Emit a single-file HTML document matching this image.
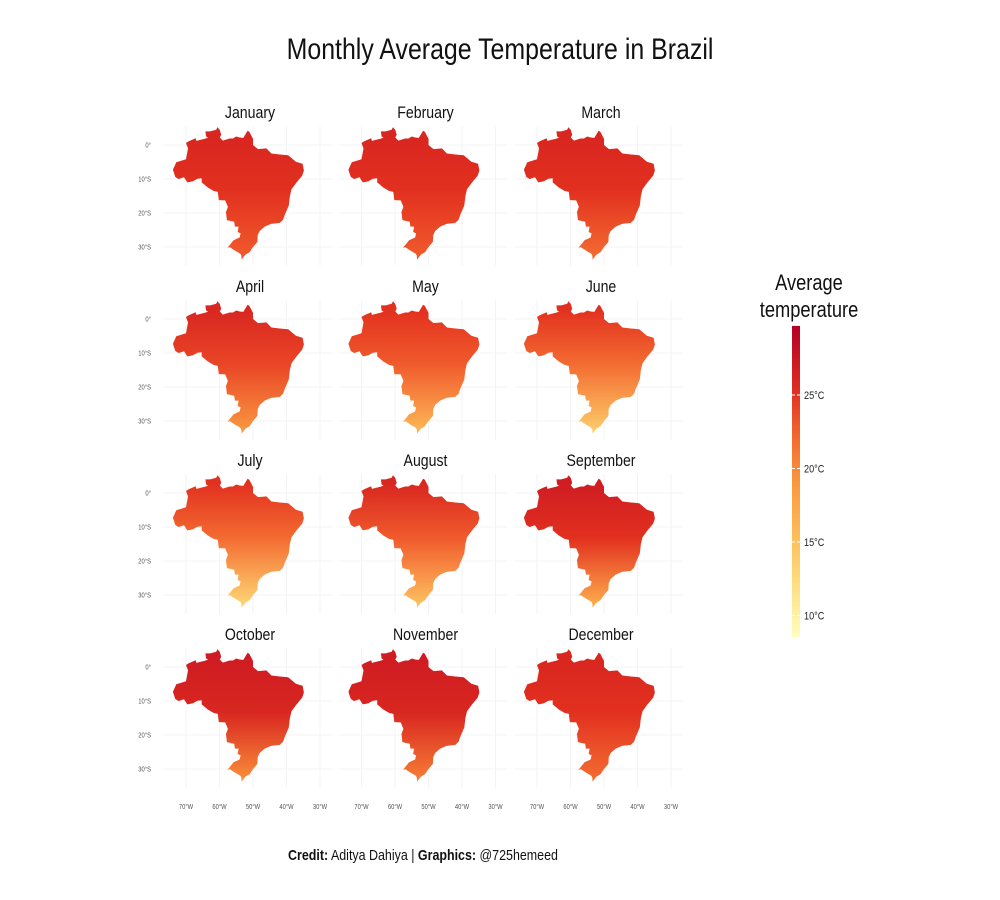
<!DOCTYPE html>
<html><head><meta charset="utf-8"><style>
html,body{margin:0;padding:0;background:#fff;}
svg{display:block;font-family:"Liberation Sans Narrow","Liberation Sans",sans-serif;}
</style></head><body>
<svg id="chart" width="1000" height="900" viewBox="0 0 1000 900">
<text x="500" y="59" text-anchor="middle" font-size="30" fill="#111">Monthly Average Temperature in Brazil</text>
<g id="panels"></g>
<g id="legend"></g>
<text x="423" y="860" text-anchor="middle" font-size="15" fill="#111"><tspan font-weight="bold">Credit:</tspan> Aditya Dahiya | <tspan font-weight="bold">Graphics:</tspan> @725hemeed</text>
</svg>
<script>
const months=["January","February","March","April","May","June","July","August","September","October","November","December"];
const northTemp=[26,26,26,26,25,25,25,26,27,27,27,26];
const centralTemp=[25,25,25,24,23,22,22,23,25,26,26,25];
const southTemp=[23,23,22,19,16,14,13,15,17,20,21,22];
const lonTicks=[-70,-60,-50,-40,-30];
const latTicks=[0,-10,-20,-30];
const legendTicks=[25,20,15,10];
const brazil=[[-73.9,-7.3],[-72.9,-5.1],[-70,-4.2],[-69.4,-1],[-70,0.6],[-69.2,1.1],[-67.1,2],[-66.9,1.2],[-64.1,1.9],[-63.4,2.2],[-64,2.5],[-64.2,4],[-62.8,4],[-61,4.5],[-60.6,5.2],[-59.9,4.4],[-59.5,3],[-59.9,2.2],[-59,1.3],[-57,1.9],[-56,1.9],[-55,2.5],[-54,2.2],[-52.9,2.1],[-51.6,4.2],[-51.1,3.9],[-50,1.8],[-50,0],[-48.5,-1.2],[-46,-1],[-44.5,-2.5],[-42,-2.8],[-39.5,-3],[-37.2,-4.9],[-35.2,-5.5],[-34.8,-7.5],[-35.3,-9],[-37,-11],[-38.5,-13],[-39,-15],[-39.3,-17.8],[-40.5,-20.5],[-41,-22],[-42,-22.9],[-44.6,-23.2],[-46.5,-24],[-48,-25.3],[-48.6,-26.5],[-48.7,-28.5],[-50,-30],[-51,-31.5],[-52.3,-32.3],[-53.4,-33.7],[-53.5,-32.5],[-53.8,-32],[-55.6,-30.9],[-56.9,-30.1],[-57.6,-30.2],[-55.8,-28],[-54,-27.2],[-53.7,-26],[-54.6,-25.6],[-54.3,-24],[-55.4,-24],[-55.6,-22.6],[-57.8,-22.1],[-58,-20.2],[-58.1,-19.8],[-57.5,-18.2],[-58.3,-16.3],[-60.2,-16.2],[-60.5,-13.8],[-61.8,-13.5],[-63.5,-12.5],[-65.3,-11],[-65.3,-9.8],[-66.6,-9.9],[-68,-10.7],[-69.6,-11],[-70.6,-9.5],[-72.2,-10],[-73.2,-9.4]];
const NS="http://www.w3.org/2000/svg";
const cStops=[[8.5,[255,255,190]],[13,[254,214,115]],[17,[253,172,75]],[20,[249,140,58]],[23,[240,90,44]],[25,[226,48,31]],[29.7,[181,0,38]]];
function tempColor(t){
  if(t<=cStops[0][0])return "rgb("+cStops[0][1]+")";
  for(let i=1;i<cStops.length;i++){if(t<=cStops[i][0]){const a=cStops[i-1],b=cStops[i];const f=(t-a[0])/(b[0]-a[0]);return "rgb("+a[1].map((v,k)=>Math.round(v+(b[1][k]-v)*f)).join(",")+")";}}
  return "rgb("+cStops[cStops.length-1][1]+")";
}
function el(tag,attrs,parent){const e=document.createElementNS(NS,tag);for(const k in attrs)e.setAttribute(k,attrs[k]);parent.appendChild(e);return e;}
const svg=document.getElementById("chart");
const defs=el("defs",{},svg);
const panels=document.getElementById("panels");
months.forEach((m,i)=>{
  const col=i%3,row=Math.floor(i/3);
  const ox=col*175.5,oy=row*174;
  const xS=lon=>186+ox+(lon+70)*3.35;
  const yS=lat=>145+oy-lat*3.4;
  const g=el("g",{},panels);
  
  
  lonTicks.forEach(t=>{const l=el("line",{x1:xS(t),x2:xS(t),y1:yS(5.5),y2:yS(-35.5),stroke:"#f3f3f3","stroke-width":1},g);
    });
  latTicks.forEach(t=>{const l=el("line",{x1:xS(-76.5),x2:xS(-26.5),y1:yS(t),y2:yS(t),stroke:"#f3f3f3","stroke-width":1},g);
    });
  const gid="grad"+i;
  const gr=el("linearGradient",{id:gid,gradientUnits:"userSpaceOnUse",x1:0,x2:0,y1:yS(3),y2:yS(-33)},defs);
  el("stop",{offset:"0",  "stop-color":tempColor(northTemp[i])},gr);
  el("stop",{offset:"0.45","stop-color":tempColor(centralTemp[i])},gr);
  el("stop",{offset:"1",  "stop-color":tempColor(southTemp[i])},gr);
  const p=el("path",{d:"M"+brazil.map(c=>xS(c[0]).toFixed(1)+","+yS(c[1]).toFixed(1)).join("L")+"Z",fill:"url(#"+gid+")"},g);
  
  
  const tt=el("text",{x:xS(-50)-3,y:yS(0)-27,"text-anchor":"middle","font-size":17,fill:"#111"},g);tt.textContent=m;
  
  if(col===0){latTicks.forEach(t=>{const tx=el("text",{x:151,y:yS(t)+2.5,"text-anchor":"end","font-size":7,fill:"#555"},g);tx.textContent=t===0?"0°":(-t)+"°S";
    });}
  if(row===3){lonTicks.forEach(t=>{const tx=el("text",{x:xS(t),y:809,"text-anchor":"middle","font-size":7,fill:"#555"},g);tx.textContent=(-t)+"°W";
    });}
});
// legend
const lg=document.getElementById("legend");
const lt1=el("text",{x:809,y:290,"text-anchor":"middle","font-size":22,fill:"#111"},lg);lt1.textContent="Average";

const lt2=el("text",{x:809,y:317,"text-anchor":"middle","font-size":22,fill:"#111"},lg);lt2.textContent="temperature";

const lgy=t=>395+(25-t)*14.7;
const lgr=el("linearGradient",{id:"lgrad",x1:0,x2:0,y1:0,y2:1},defs);
for(let k=0;k<=10;k++){const t=29.7-(29.7-8.5)*k/10;el("stop",{offset:k/10,"stop-color":tempColor(t)},lgr);}
const bar=el("rect",{x:792,y:lgy(29.7),width:8,height:lgy(8.5)-lgy(29.7),fill:"url(#lgrad)"},lg);

legendTicks.forEach(t=>{
  el("line",{x1:792,x2:795,y1:lgy(t),y2:lgy(t),stroke:"#fff","stroke-width":1},lg);
  el("line",{x1:797,x2:800,y1:lgy(t),y2:lgy(t),stroke:"#fff","stroke-width":1},lg);
  const tx=el("text",{x:804,y:lgy(t)+4,"font-size":11,fill:"#222"},lg);tx.textContent=t+"°C";
  
});
// condense all text to mimic narrow font
document.querySelectorAll("#chart text").forEach(t=>{
  const w=t.getComputedTextLength();
  if(w>0){t.setAttribute("textLength",(w*0.83).toFixed(1));t.setAttribute("lengthAdjust","spacingAndGlyphs");}
});
</script>
</body></html>
